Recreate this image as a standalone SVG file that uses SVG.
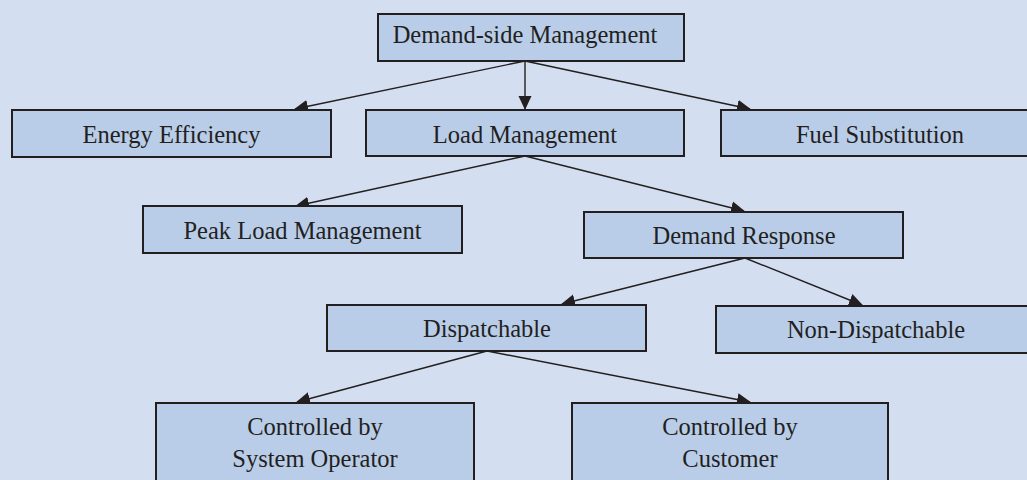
<svg xmlns="http://www.w3.org/2000/svg" width="1027" height="480" viewBox="0 0 1027 480">
<style>
.box{fill:#b9cde8;stroke:#231f20;stroke-width:2}
.lbl{font-family:"Liberation Serif","Times New Roman",serif;font-size:24.5px;fill:#231f20;text-anchor:middle}
.edge{stroke:#231f20;stroke-width:1.4;fill:none;marker-end:url(#arr)}
</style>
<defs>
<marker id="arr" markerUnits="userSpaceOnUse" markerWidth="14" markerHeight="14" viewBox="0 0 14 14" refX="13" refY="7" orient="auto">
<path d="M0,0.5 L14,7 L0,13.5 Z" fill="#231f20"/>
</marker>
</defs>
<rect width="1027" height="480" fill="#d3dff0"/>
<g id="connectors">
<line class="edge" x1="525" y1="61" x2="295" y2="109"/>
<line class="edge" x1="525" y1="61" x2="525" y2="109"/>
<line class="edge" x1="525" y1="61" x2="750" y2="109"/>
<line class="edge" x1="525" y1="156" x2="296" y2="206"/>
<line class="edge" x1="525" y1="156" x2="744" y2="211"/>
<line class="edge" x1="745" y1="258" x2="562" y2="304"/>
<line class="edge" x1="745" y1="258" x2="862" y2="305"/>
<line class="edge" x1="487" y1="351" x2="297" y2="402"/>
<line class="edge" x1="487" y1="351" x2="750" y2="402"/>
</g>
<g id="dsm"><rect class="box" x="378" y="14" width="306" height="47"/><text class="lbl" x="525" y="43">Demand-side Management</text></g>
<g id="energy"><rect class="box" x="12" y="110" width="319" height="47"/><text class="lbl" x="171.5" y="143">Energy Efficiency</text></g>
<g id="load"><rect class="box" x="366" y="110" width="318" height="46"/><text class="lbl" x="525" y="143">Load Management</text></g>
<g id="fuel"><rect class="box" x="721" y="110" width="320" height="46"/><text class="lbl" x="880" y="143">Fuel Substitution</text></g>
<g id="peak"><rect class="box" x="143" y="206" width="319" height="47"/><text class="lbl" x="302.5" y="239">Peak Load Management</text></g>
<g id="dr"><rect class="box" x="584" y="212" width="319" height="46"/><text class="lbl" x="744" y="244">Demand Response</text></g>
<g id="disp"><rect class="box" x="327" y="305" width="319" height="46"/><text class="lbl" x="487" y="337">Dispatchable</text></g>
<g id="nondisp"><rect class="box" x="716" y="306" width="320" height="47"/><text class="lbl" x="876" y="338">Non-Dispatchable</text></g>
<g id="cso"><rect class="box" x="156" y="403" width="318" height="90"/><text class="lbl" x="315" y="435">Controlled by</text><text class="lbl" x="315" y="467">System Operator</text></g>
<g id="cust"><rect class="box" x="572" y="403" width="316" height="90"/><text class="lbl" x="730" y="435">Controlled by</text><text class="lbl" x="730" y="467">Customer</text></g>
</svg>
